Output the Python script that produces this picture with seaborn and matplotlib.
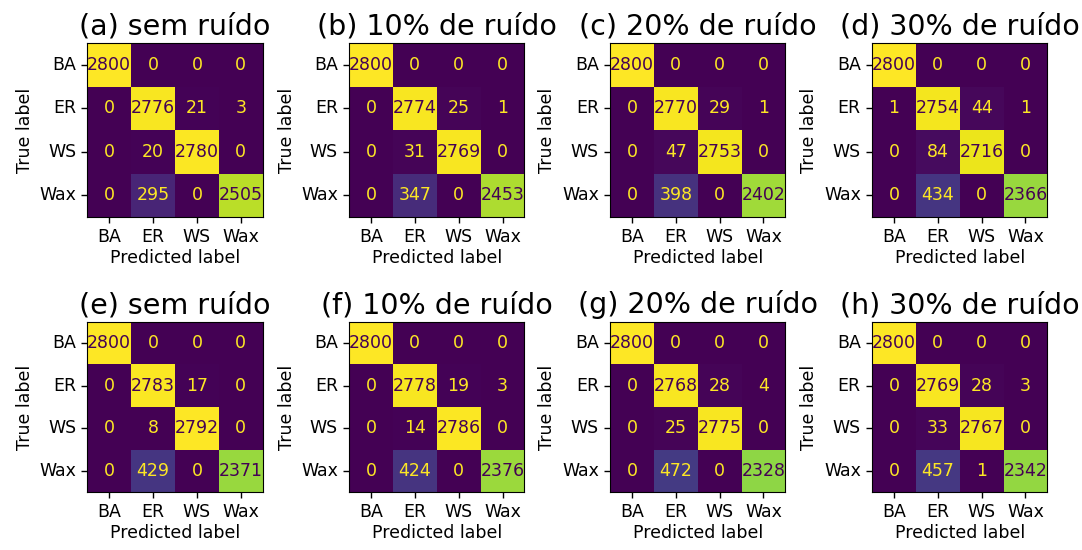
import numpy as np
import pandas as pd
import matplotlib
matplotlib.use("Agg")
import matplotlib.pyplot as plt
import seaborn as sns

labels = ["BA", "ER", "WS", "Wax"]
titles = ["(a) sem ruído", "(b) 10% de ruído", "(c) 20% de ruído", "(d) 30% de ruído",
          "(e) sem ruído", "(f) 10% de ruído", "(g) 20% de ruído", "(h) 30% de ruído"]

cm_a = [[2800, 0, 0, 0], [0, 2776, 21, 3], [0, 20, 2780, 0], [0, 295, 0, 2505]]
cm_b = [[2800, 0, 0, 0], [0, 2774, 25, 1], [0, 31, 2769, 0], [0, 347, 0, 2453]]
cm_c = [[2800, 0, 0, 0], [0, 2770, 29, 1], [0, 47, 2753, 0], [0, 398, 0, 2402]]
cm_d = [[2800, 0, 0, 0], [1, 2754, 44, 1], [0, 84, 2716, 0], [0, 434, 0, 2366]]
cm_e = [[2800, 0, 0, 0], [0, 2783, 17, 0], [0, 8, 2792, 0], [0, 429, 0, 2371]]
cm_f = [[2800, 0, 0, 0], [0, 2778, 19, 3], [0, 14, 2786, 0], [0, 424, 0, 2376]]
cm_g = [[2800, 0, 0, 0], [0, 2768, 28, 4], [0, 25, 2775, 0], [0, 472, 0, 2328]]
cm_h = [[2800, 0, 0, 0], [0, 2769, 28, 3], [0, 33, 2767, 0], [0, 457, 1, 2342]]
matrices = [cm_a, cm_b, cm_c, cm_d, cm_e, cm_f, cm_g, cm_h]

fig = plt.figure(figsize=(10.82, 5.5), dpi=100)
cmap = matplotlib.colormaps["viridis"]
lefts = [0.0807, 0.3226, 0.5638, 0.8059]
w = 0.1621
rows = [(0.6051, 0.3164), (0.1049, 0.3102)]
fs = 12.5

for k, (cm, title) in enumerate(zip(matrices, titles)):
    r, c = divmod(k, 4)
    b, h = rows[r]
    ax = fig.add_axes([lefts[c], b, w, h])
    df = pd.DataFrame(cm, index=labels, columns=labels)
    arr = np.array(cm)
    vmin, vmax = arr.min(), arr.max()
    sns.heatmap(df, ax=ax, cmap=cmap, cbar=False, annot=False, vmin=vmin, vmax=vmax,
                linewidths=0)
    thresh = (vmax + vmin) / 2.0
    for i in range(4):
        for j in range(4):
            col = cmap(0.0) if arr[i, j] >= thresh else cmap(1.0)
            ax.text(j + 0.5, i + 0.5, str(arr[i, j]), ha="center", va="center",
                    color=col, fontsize=fs)
    for s in ax.spines.values():
        s.set_visible(True)
        s.set_color("black")
        s.set_linewidth(0.8)
    ax.tick_params(axis="both", length=4.5, width=1.0, labelsize=fs, color="black")
    ax.set_xticklabels(labels, rotation=0)
    ax.set_yticklabels(labels, rotation=0)
    ax.set_xlabel("Predicted label", fontsize=fs, labelpad=2)
    ax.set_ylabel("True label", fontsize=fs, labelpad=4)
    ax.set_title(title, fontsize=20.5, pad=6)

fig.savefig("out.png", dpi=100)
